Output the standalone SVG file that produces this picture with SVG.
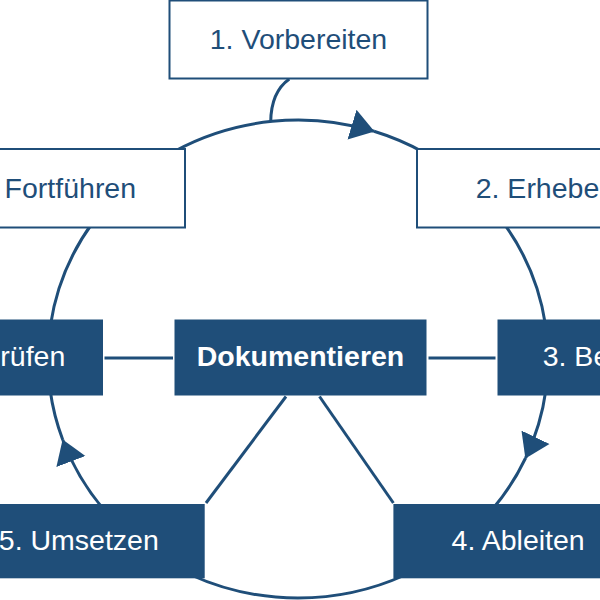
<svg xmlns="http://www.w3.org/2000/svg" width="600" height="600" viewBox="0 0 600 600">
  <style>
    .out { fill: #ffffff; stroke: #1f4e79; stroke-width: 2; }
    .fill { fill: #1f4e79; stroke: none; }
    .lbl { font-family: "Liberation Sans", Arial, sans-serif; font-size: 28.5px; }
    .dark { fill: #1f4e79; }
    .light { fill: #ffffff; }
    .bold { font-weight: bold; }
    .conn { fill: none; stroke: #1f4e79; stroke-width: 3; }
  </style>
  <defs>
    <marker id="arr" markerUnits="userSpaceOnUse" viewBox="0 -16 24 32" markerWidth="24" markerHeight="32" refX="23" refY="0" orient="auto">
      <path d="M0,-15.5 L23.5,0 L0,15.5 Z" fill="#1f4e79"/>
    </marker>
  </defs>
  <rect width="600" height="600" fill="#ffffff"/>
  <g id="connectors">
    <path class="conn" d="M289.3,79 Q271,92 270.7,122"/>
    <path class="conn" d="M175,151 A250,239 0 0 1 374,131.3" marker-end="url(#arr)"/>
    <path class="conn" d="M374,131.3 A250,239 0 0 1 425,153.1"/>
    <path class="conn" d="M502.9,222 A250,239 0 0 1 545.5,325"/>
    <path class="conn" d="M545.9,390 A250,239 0 0 1 525.6,458" marker-end="url(#arr)"/>
    <path class="conn" d="M525.6,458 A250,239 0 0 1 491.8,510"/>
    <path class="conn" d="M405,575 A250,239 0 0 1 191,575"/>
    <path class="conn" d="M104.2,510 A250,239 0 0 1 62.8,440" marker-end="url(#arr)"/>
    <path class="conn" d="M62.8,440 A250,239 0 0 1 50.1,390"/>
    <path class="conn" d="M50.5,325 A250,239 0 0 1 93.1,222"/>
    <line class="conn" x1="104.5" y1="358" x2="173" y2="358"/>
    <line class="conn" x1="428.5" y1="358" x2="495.5" y2="358"/>
    <line class="conn" x1="286" y1="396.5" x2="206" y2="503"/>
    <line class="conn" x1="319.5" y1="396.5" x2="393.4" y2="503"/>
  </g>
  <g id="node-vorbereiten">
    <rect class="out" x="169.5" y="0.5" width="258" height="78"/>
    <text class="lbl dark" x="298.5" y="49" text-anchor="middle">1. Vorbereiten</text>
  </g>
  <g id="node-fortfuehren">
    <rect class="out" x="-73" y="149" width="258" height="78.5"/>
    <text class="lbl dark" x="4.6" y="198">Fortführen</text>
  </g>
  <g id="node-erheben">
    <rect class="out" x="417" y="149" width="258" height="78.5"/>
    <text class="lbl dark" x="475.7" y="198">2. Erhebe</text>
  </g>
  <g id="node-pruefen">
    <rect class="fill" x="-150" y="319.5" width="253" height="76"/>
    <text class="lbl light" x="0.3" y="366">rüfen</text>
  </g>
  <g id="node-dokumentieren">
    <rect class="fill" x="174.5" y="319.5" width="252" height="76"/>
    <text class="lbl light bold" x="300.5" y="366" text-anchor="middle">Dokumentieren</text>
  </g>
  <g id="node-bewerten">
    <rect class="fill" x="497.5" y="319.5" width="252" height="76"/>
    <text class="lbl light" x="542.7" y="366">3. Be</text>
  </g>
  <g id="node-umsetzen">
    <rect class="fill" x="-50" y="504" width="254.7" height="74.3"/>
    <text class="lbl light" x="158.8" y="550" text-anchor="end">5. Umsetzen</text>
  </g>
  <g id="node-ableiten">
    <rect class="fill" x="393.4" y="504" width="252" height="74.3"/>
    <text class="lbl light" x="451.6" y="550">4. Ableiten</text>
  </g>
</svg>
